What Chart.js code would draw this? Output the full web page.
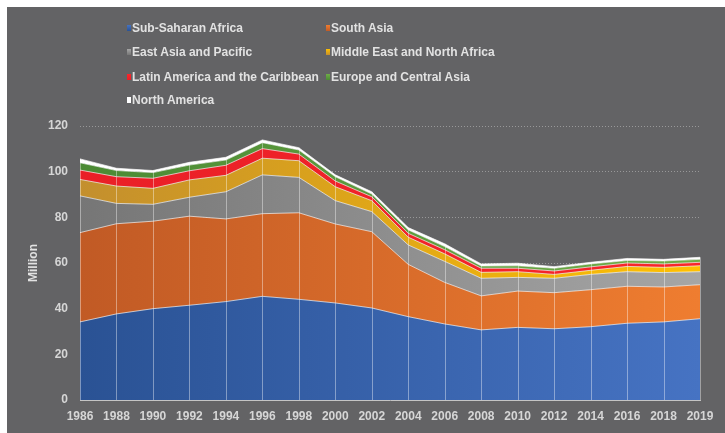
<!DOCTYPE html>
<html>
<head>
<meta charset="utf-8">
<script src="https://cdn.jsdelivr.net/npm/chart.js@4"></script>
<style>
  html, body { margin: 0; padding: 0; background: #ffffff; }
  #panel { position: absolute; left: 7px; top: 7px; width: 718px; height: 426px; background: #636365; }
  #chart { position: absolute; left: 0; top: 0; }
  #legend { position: absolute; left: 0; top: 0; font: bold 12px "Liberation Sans", Arial, sans-serif; color: #e2e2e2; }
  .item { position: absolute; white-space: nowrap; line-height: 14px; }
  .swatch { display: inline-block; width: 4px; height: 6px; margin-right: 1px; vertical-align: 1px; }
</style>
</head>
<body>
<div id="panel">
  <canvas id="chart" width="718" height="426"></canvas>
  <div id="legend"></div>
</div>
<script>
const years = ["1986", "1988", "1990", "1992", "1994", "1996", "1998", "2000", "2002",
  "2004", "2006", "2008", "2010", "2012", "2014", "2016", "2018", "2019"];

const subSaharanAfrica = [34.2, 37.7, 40.0, 41.5, 43.1, 45.4, 44.1, 42.5, 40.3, 36.5, 33.3, 30.7, 31.8, 31.2, 32.1, 33.6, 34.2, 35.6];
const southAsia = [39.1, 39.5, 38.3, 39.0, 36.2, 36.2, 37.9, 34.6, 33.4, 22.9, 18.2, 14.9, 15.9, 15.8, 16.2, 16.2, 15.3, 14.9];
const eastAsiaPacific = [16.1, 8.9, 7.4, 8.3, 11.9, 17.0, 15.5, 10.2, 8.8, 8.5, 9.2, 7.7, 6.0, 6.3, 6.7, 6.4, 6.3, 5.7];
const middleEastNorthAfrica = [7.2, 7.6, 7.0, 7.6, 7.2, 7.3, 7.3, 6.1, 4.8, 3.4, 3.3, 2.6, 2.5, 1.7, 1.8, 2.3, 2.3, 2.6];
const latinAmericaCaribbean = [4.1, 4.1, 4.4, 4.0, 4.4, 4.2, 2.9, 2.5, 1.7, 1.7, 1.8, 1.8, 1.5, 1.5, 1.5, 1.5, 1.5, 1.5];
const europeCentralAsia = [3.2, 2.7, 2.5, 2.5, 2.3, 2.6, 1.8, 1.9, 1.2, 1.5, 1.4, 1.0, 1.1, 1.2, 1.3, 1.1, 1.3, 1.3];
const northAmerica = [1.7, 1.0, 0.9, 1.2, 1.2, 1.2, 1.0, 0.8, 1.0, 1.0, 1.2, 0.9, 1.1, 0.7, 0.7, 0.9, 0.7, 0.9];

const yTicks = [0, 20, 40, 60, 80, 100, 120];

// series: label, data, gradient left -> right, legend position
const series = [
  { label: "Sub-Saharan Africa", data: subSaharanAfrica, colors: ["#2a5294", "#4673c3"], col: 0, row: 0 },
  { label: "South Asia", data: southAsia, colors: ["#c15a25", "#ef7d30"], col: 1, row: 0 },
  { label: "East Asia and Pacific", data: eastAsiaPacific, colors: ["#767676", "#a6a6a6"], col: 0, row: 1 },
  { label: "Middle East and North Africa", data: middleEastNorthAfrica, colors: ["#c38f2e", "#ffc000"], col: 1, row: 1 },
  { label: "Latin America and the Caribbean", data: latinAmericaCaribbean, colors: ["#e91f27", "#f8262a"], col: 0, row: 2 },
  { label: "Europe and Central Asia", data: europeCentralAsia, colors: ["#4b8a34", "#70ad47"], col: 1, row: 2 },
  { label: "North America", data: northAmerica, colors: ["#ffffff", "#ffffff"], col: 0, row: 3 },
];

const font = { family: "'Liberation Sans', Arial, sans-serif", size: 12, weight: "bold" };

function gradientFor(colors) {
  return (context) => {
    const { chart } = context;
    const area = chart.chartArea;
    if (!area) return colors[1];
    const g = chart.ctx.createLinearGradient(area.left, 0, area.right, 0);
    g.addColorStop(0, colors[0]);
    g.addColorStop(1, colors[1]);
    return g;
  };
}

// white drop lines from the top of the stack down to the axis
const dropLines = {
  id: "dropLines",
  afterDatasetsDraw(chart) {
    const meta = chart.getDatasetMeta(chart.data.datasets.length - 1);
    const ctx = chart.ctx;
    const bottom = chart.chartArea.bottom;
    ctx.save();
    ctx.strokeStyle = "rgba(255,255,255,0.4)";
    ctx.lineWidth = 1;
    meta.data.forEach((pt) => {
      const x = Math.round(pt.x) + 0.5;
      ctx.beginPath();
      ctx.moveTo(x, pt.y);
      ctx.lineTo(x, bottom);
      ctx.stroke();
    });
    ctx.restore();
  },
};

new Chart(document.getElementById("chart"), {
  type: "line",
  data: {
    labels: years,
    datasets: series.map((s, i) => ({
      label: s.label,
      data: s.data,
      fill: i === 0 ? "origin" : "-1",
      backgroundColor: gradientFor(s.colors),
      borderColor: "rgba(255,255,255,0.65)",
      borderWidth: 1,
      pointRadius: 0,
      tension: 0,
    })),
  },
  options: {
    responsive: false,
    animation: false,
    layout: { padding: { top: 119, right: 25, bottom: 0, left: 0 } },
    plugins: {
      legend: { display: false },
      tooltip: { enabled: false },
    },
    scales: {
      x: {
        grid: { display: false },
        border: { display: true, color: "#c4c4c4", width: 1, z: 1 },
        ticks: { color: "#d6d6d6", font, padding: 1, maxRotation: 0, autoSkip: false },
        afterFit: (axis) => { axis.height = 33; },
      },
      y: {
        stacked: true,
        min: 0,
        max: 120,
        afterBuildTicks: (axis) => { axis.ticks = yTicks.map((v) => ({ value: v })); },
        grid: { color: "rgba(175,175,175,0.7)", lineWidth: 1, drawTicks: false },
        border: { display: false, dash: [1, 2] },
        ticks: { color: "#d6d6d6", font, padding: 12 },
        title: { display: true, text: "Million", color: "#e2e2e2", font, padding: { top: 19, bottom: 4 } },
        afterFit: (axis) => { axis.width = 73; },
      },
    },
  },
  plugins: [dropLines],
});

// legend in two columns
const legend = document.getElementById("legend");
const colX = [120, 319];
const rowY = [14, 38, 63, 86];
series.forEach((s) => {
  const item = document.createElement("div");
  item.className = "item";
  item.style.left = colX[s.col] + "px";
  item.style.top = rowY[s.row] + "px";
  const sw = document.createElement("span");
  sw.className = "swatch";
  sw.style.background = `linear-gradient(${s.colors[1]}, ${s.colors[0]})`;
  item.appendChild(sw);
  item.appendChild(document.createTextNode(s.label));
  legend.appendChild(item);
});
</script>
</body>
</html>
